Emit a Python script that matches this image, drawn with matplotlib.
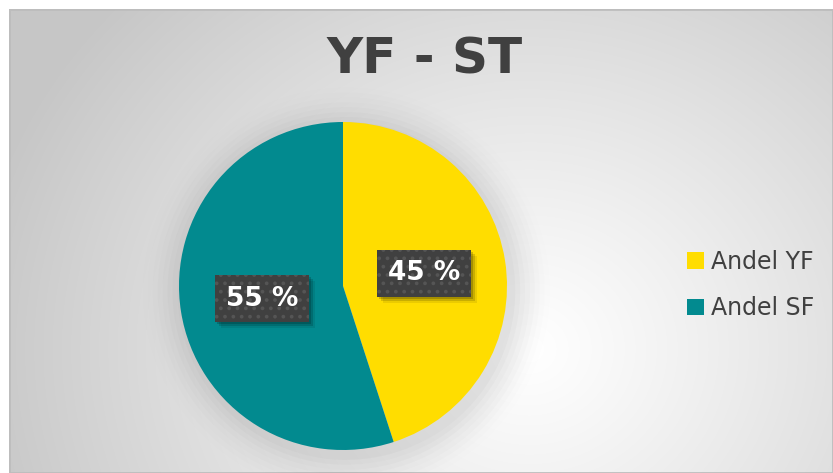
import numpy as np
import matplotlib
matplotlib.use("Agg")
import matplotlib.pyplot as plt
from matplotlib.patches import Patch, Circle, Rectangle

categories = ["Andel YF", "Andel SF"]
values = [45, 55]
colors = ["#FFDD00", "#028A8F"]
title = "YF - ST"

W, H = 833, 473
fig = plt.figure(figsize=(W / 100, H / 100), dpi=100)
fig.patch.set_facecolor("white")

# background radial gradient
bg = fig.add_axes([9 / W, 0, 1 - 9 / W, 1 - 9 / H])
bg.set_axis_off()
yy, xx = np.mgrid[0:H - 9, 0:W - 9]
cx, cy = 520, 340
r = np.sqrt(((xx - cx) / 1.0) ** 2 + ((yy - cy) / 0.9) ** 2)
g = 1.0 - 0.22 * np.clip(r / 560, 0, 1) ** 1.1
img = np.dstack([g, g, g])
bg.imshow(img, aspect="auto", extent=[0, 1, 0, 1], origin="upper")
bg.add_patch(Rectangle((0, 0), 1, 1, transform=bg.transAxes, fill=False,
                       ec="#bdbdbd", lw=2))
bg.set_xlim(0, 1)
bg.set_ylim(0, 1)

# pie
R = 164
pcx, pcy = 343, 286
ax = fig.add_axes([(pcx - R) / W, (H - pcy - R) / H, 2 * R / W, 2 * R / H])
ax.set_xlim(-1, 1)
ax.set_ylim(-1, 1)
ax.set_axis_off()

# soft shadow around pie
for i, a in enumerate(np.linspace(0.10, 0.015, 8)):
    ax.add_patch(Circle((0.02, -0.03), 1.0 + 0.03 * (i + 1), color="#888888",
                        alpha=a * 0.5, lw=0, zorder=0, clip_on=False))

wedges, texts, autotexts = ax.pie(
    values, colors=colors, startangle=90, counterclock=False,
    autopct=lambda p: f"{p:.0f} %", pctdistance=0.5, radius=1.0,
    wedgeprops=dict(linewidth=0), textprops=dict(color="white", fontsize=19,
                                                  fontweight="bold",
                                                  family="DejaVu Sans"))
ax.set_xlim(-1, 1)
ax.set_ylim(-1, 1)
plt.rcParams["hatch.linewidth"] = 1.5
for t in autotexts:
    t.set_zorder(5)
    t.set_bbox(dict(boxstyle="square,pad=0.4", fc="#404040", ec="#555555",
                    lw=0, hatch=".."))

fig.text(425 / W, 1 - 60 / H, title, ha="center", va="center",
         fontsize=36, fontweight="bold", color="#404040",
         family=["Liberation Sans Narrow", "DejaVu Sans"])

handles = [Patch(facecolor=c, edgecolor="none") for c in colors]
fig.legend(handles, categories, loc="center left",
           bbox_to_anchor=(666 / W, 1 - 285 / H), frameon=False,
           labelcolor="#404040", handlelength=0.7,
           handleheight=0.7, handletextpad=0.3, labelspacing=0.95,
           prop=dict(family="DejaVu Sans", size=17))

# soft shadows behind label boxes
fig.canvas.draw()
inv = ax.transData.inverted()
for t in autotexts:
    bb = t.get_bbox_patch().get_window_extent()
    for k, al in [(2, 0.18), (4, 0.14), (6, 0.08)]:
        (x0, y0), (x1, y1) = inv.transform([(bb.x0 + k, bb.y0 - k),
                                            (bb.x1 + k, bb.y1 - k)])
        ax.add_patch(Rectangle((x0, y0), x1 - x0, y1 - y0, fc="black",
                               ec="none", alpha=al, zorder=4, clip_on=False))

fig.savefig("out.png", dpi=100)
